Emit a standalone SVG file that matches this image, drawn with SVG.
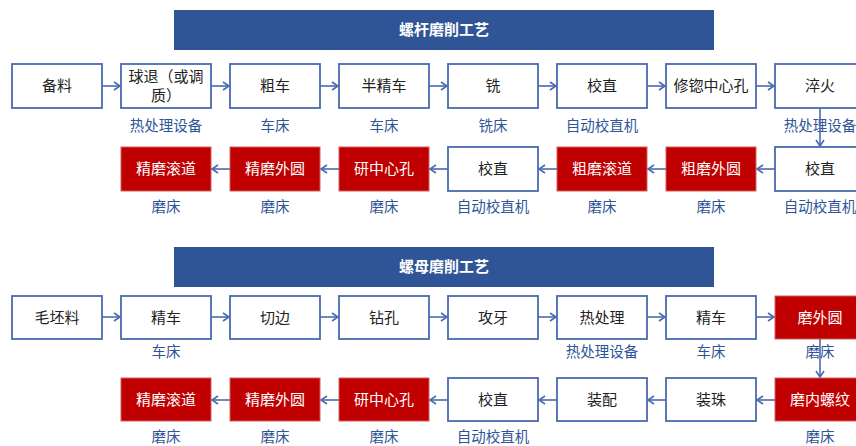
<svg xmlns="http://www.w3.org/2000/svg" width="856" height="446" viewBox="0 0 856 446">
<defs>
<marker id="ah" markerWidth="10" markerHeight="10" refX="8" refY="5" orient="auto" markerUnits="userSpaceOnUse">
<path d="M2,1 L8,5 L2,9" fill="none" stroke="#4A6BAF" stroke-width="1.6"/>
</marker>
<style>
.banner{fill:#2F5597}
.bt{fill:#fff;font-family:"Noto Sans CJK SC",sans-serif;font-size:15px;font-weight:bold;text-anchor:middle}
.box{fill:#fff;stroke:#4A6BAF;stroke-width:1.8}
.red{fill:#C00000;stroke:#D06060;stroke-width:1}
.t{fill:#222;font-family:"Noto Sans CJK SC",sans-serif;font-size:15px;text-anchor:middle}
.tw{fill:#fff;font-family:"Noto Sans CJK SC",sans-serif;font-size:15px;text-anchor:middle}
.lb{fill:#2F5597;font-family:"Noto Sans CJK SC",sans-serif;font-size:14.5px;text-anchor:middle}
.c{stroke:#4A6BAF;stroke-width:1.6;fill:none;marker-end:url(#ah)}
</style>
</defs>
<rect width="856" height="446" fill="#fff"/>

<g id="banner1"><rect class="banner" x="174" y="10" width="540" height="40"/><text class="bt" x="444" y="35">螺杆磨削工艺</text></g>
<g id="banner2"><rect class="banner" x="174" y="247" width="540" height="40"/><text class="bt" x="444" y="272">螺母磨削工艺</text></g>

<!-- Row 1 -->
<g id="s1"><rect class="box" x="12" y="64" width="90" height="44"/><text class="t" x="57" y="91">备料</text></g>
<g id="s2"><rect class="box" x="121" y="64" width="90" height="44"/><text class="t" x="166" y="82">球退（或调</text><text class="t" x="166" y="101">质）</text><text class="lb" x="166" y="131">热处理设备</text></g>
<g id="s3"><rect class="box" x="230" y="64" width="90" height="44"/><text class="t" x="275" y="91">粗车</text><text class="lb" x="275" y="131">车床</text></g>
<g id="s4"><rect class="box" x="339" y="64" width="90" height="44"/><text class="t" x="384" y="91">半精车</text><text class="lb" x="384" y="131">车床</text></g>
<g id="s5"><rect class="box" x="448" y="64" width="90" height="44"/><text class="t" x="493" y="91">铣</text><text class="lb" x="493" y="131">铣床</text></g>
<g id="s6"><rect class="box" x="557" y="64" width="90" height="44"/><text class="t" x="602" y="91">校直</text><text class="lb" x="602" y="131">自动校直机</text></g>
<g id="s7"><rect class="box" x="666" y="64" width="90" height="44"/><text class="t" x="711" y="91">修锪中心孔</text></g>
<g id="s8"><rect class="box" x="775" y="64" width="90" height="44"/><text class="t" x="820" y="91">淬火</text><text class="lb" x="820" y="131">热处理设备</text></g>

<!-- Row 2 -->
<g id="s9"><rect class="box" x="775" y="147" width="90" height="44"/><text class="t" x="820" y="174">校直</text><text class="lb" x="820" y="212">自动校直机</text></g>
<g id="s10"><rect class="red" x="666" y="147" width="90" height="44"/><text class="tw" x="711" y="174">粗磨外圆</text><text class="lb" x="711" y="212">磨床</text></g>
<g id="s11"><rect class="red" x="557" y="147" width="90" height="44"/><text class="tw" x="602" y="174">粗磨滚道</text><text class="lb" x="602" y="212">磨床</text></g>
<g id="s12"><rect class="box" x="448" y="147" width="90" height="44"/><text class="t" x="493" y="174">校直</text><text class="lb" x="493" y="212">自动校直机</text></g>
<g id="s13"><rect class="red" x="339" y="147" width="90" height="44"/><text class="tw" x="384" y="174">研中心孔</text><text class="lb" x="384" y="212">磨床</text></g>
<g id="s14"><rect class="red" x="230" y="147" width="90" height="44"/><text class="tw" x="275" y="174">精磨外圆</text><text class="lb" x="275" y="212">磨床</text></g>
<g id="s15"><rect class="red" x="121" y="147" width="90" height="44"/><text class="tw" x="166" y="174">精磨滚道</text><text class="lb" x="166" y="212">磨床</text></g>

<!-- Row 3 -->
<g id="n1"><rect class="box" x="12" y="296" width="90" height="43"/><text class="t" x="57" y="323">毛坯料</text></g>
<g id="n2"><rect class="box" x="121" y="296" width="90" height="43"/><text class="t" x="166" y="323">精车</text><text class="lb" x="166" y="357">车床</text></g>
<g id="n3"><rect class="box" x="230" y="296" width="90" height="43"/><text class="t" x="275" y="323">切边</text></g>
<g id="n4"><rect class="box" x="339" y="296" width="90" height="43"/><text class="t" x="384" y="323">钻孔</text></g>
<g id="n5"><rect class="box" x="448" y="296" width="90" height="43"/><text class="t" x="493" y="323">攻牙</text></g>
<g id="n6"><rect class="box" x="557" y="296" width="90" height="43"/><text class="t" x="602" y="323">热处理</text><text class="lb" x="602" y="357">热处理设备</text></g>
<g id="n7"><rect class="box" x="666" y="296" width="90" height="43"/><text class="t" x="711" y="323">精车</text><text class="lb" x="711" y="357">车床</text></g>
<g id="n8"><rect class="red" x="775" y="296" width="90" height="43"/><text class="tw" x="820" y="323">磨外圆</text><text class="lb" x="820" y="357">磨床</text></g>

<!-- Row 4 -->
<g id="n9"><rect class="red" x="775" y="378" width="90" height="43"/><text class="tw" x="820" y="405">磨内螺纹</text><text class="lb" x="820" y="442">磨床</text></g>
<g id="n10"><rect class="box" x="666" y="378" width="90" height="43"/><text class="t" x="711" y="405">装珠</text></g>
<g id="n11"><rect class="box" x="557" y="378" width="90" height="43"/><text class="t" x="602" y="405">装配</text></g>
<g id="n12"><rect class="box" x="448" y="378" width="90" height="43"/><text class="t" x="493" y="405">校直</text><text class="lb" x="493" y="442">自动校直机</text></g>
<g id="n13"><rect class="red" x="339" y="378" width="90" height="43"/><text class="tw" x="384" y="405">研中心孔</text><text class="lb" x="384" y="442">磨床</text></g>
<g id="n14"><rect class="red" x="230" y="378" width="90" height="43"/><text class="tw" x="275" y="405">精磨外圆</text><text class="lb" x="275" y="442">磨床</text></g>
<g id="n15"><rect class="red" x="121" y="378" width="90" height="43"/><text class="tw" x="166" y="405">精磨滚道</text><text class="lb" x="166" y="442">磨床</text></g>

<g id="connectors">
<path class="c" d="M102,86 H120"/>
<path class="c" d="M211,86 H229"/>
<path class="c" d="M320,86 H338"/>
<path class="c" d="M429,86 H447"/>
<path class="c" d="M538,86 H556"/>
<path class="c" d="M647,86 H665"/>
<path class="c" d="M756,86 H774"/>
<path class="c" d="M820,108 V146"/>
<path class="c" d="M775,169 H757"/>
<path class="c" d="M666,169 H648"/>
<path class="c" d="M557,169 H539"/>
<path class="c" d="M448,169 H430"/>
<path class="c" d="M339,169 H321"/>
<path class="c" d="M230,169 H212"/>
<path class="c" d="M102,317 H120"/>
<path class="c" d="M211,317 H229"/>
<path class="c" d="M320,317 H338"/>
<path class="c" d="M429,317 H447"/>
<path class="c" d="M538,317 H556"/>
<path class="c" d="M647,317 H665"/>
<path class="c" d="M756,317 H774"/>
<path class="c" d="M820,339 V377"/>
<path class="c" d="M775,400 H757"/>
<path class="c" d="M666,400 H648"/>
<path class="c" d="M557,400 H539"/>
<path class="c" d="M448,400 H430"/>
<path class="c" d="M339,400 H321"/>
<path class="c" d="M230,400 H212"/>
</g>
</svg>
